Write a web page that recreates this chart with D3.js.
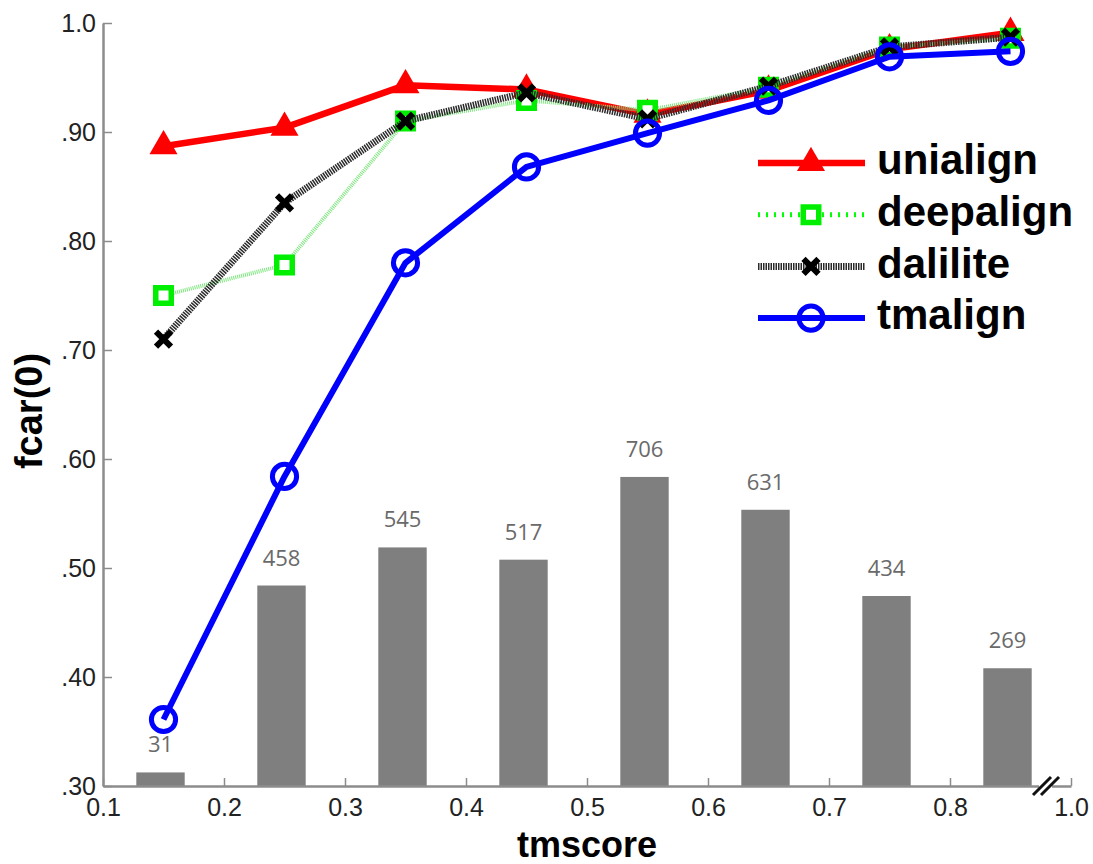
<!DOCTYPE html>
<html>
<head>
<meta charset="utf-8">
<script src="https://cdn.jsdelivr.net/npm/d3@7"></script>
<style>
  body { margin: 0; background: #fff; }
  text { font-family: "Liberation Sans", Arial, sans-serif; }
</style>
</head>
<body>
<div id="chart"></div>
<script>
// data
const tmBins = [0.15, 0.25, 0.35, 0.45, 0.55, 0.65, 0.75, 0.85];
const pairCounts = [31, 458, 545, 517, 706, 631, 434, 269];
const unialign  = [0.887, 0.904, 0.943, 0.939, 0.916, 0.938, 0.976, 0.991];
const deepalign = [0.750, 0.778, 0.910, 0.929, 0.920, 0.941, 0.978, 0.986];
const dalilite  = [0.710, 0.835, 0.910, 0.936, 0.912, 0.942, 0.978, 0.987];
const tmalign   = [0.361, 0.584, 0.780, 0.868, 0.899, 0.929, 0.969, 0.974];
const xTicks = [0.1, 0.2, 0.3, 0.4, 0.5, 0.6, 0.7, 0.8, 0.9];
const xTickLabels = ["0.1", "0.2", "0.3", "0.4", "0.5", "0.6", "0.7", "0.8", "1.0"];
const yTicks = [0.3, 0.4, 0.5, 0.6, 0.7, 0.8, 0.9, 1.0];
const yTickLabels = [".30", ".40", ".50", ".60", ".70", ".80", ".90", "1.0"];

const W = 1093, H = 864;
const svg = d3.select("#chart").append("svg")
    .attr("width", W).attr("height", H);

const x = d3.scaleLinear().domain([0.1, 0.9]).range([103, 1071]);
const y = d3.scaleLinear().domain([0.3, 1.0]).range([786, 23]);
// bar counts share the plot area, no axis of their own
const yc = d3.scaleLinear().domain([0, 1743]).range([786, 23]);
const barW = x(0.14) - x(0.1);

// bars
svg.append("g").selectAll("rect")
    .data(pairCounts)
    .join("rect")
    .attr("x", (d, i) => x(tmBins[i]) - barW / 2 - 3)
    .attr("y", d => yc(d))
    .attr("width", barW)
    .attr("height", d => yc(0) - yc(d))
    .attr("fill", "#7f7f7f");

svg.append("g").selectAll("text")
    .data(pairCounts)
    .join("text")
    .attr("x", (d, i) => x(tmBins[i]) - 3)
    .attr("y", d => yc(d) - 20)
    .attr("text-anchor", "middle")
    .style("font-family", "'Open Sans', sans-serif")
    .attr("font-size", 22)
    .attr("fill", "#6a6a6a")
    .text(d => d);

// axes
const yAxis = svg.append("g")
    .attr("transform", `translate(${x(0.1)},0)`)
    .call(d3.axisLeft(y).tickValues(yTicks).tickSize(-9).tickSizeOuter(0).tickPadding(7)
        .tickFormat((d, i) => yTickLabels[i]));
const xAxis = svg.append("g")
    .attr("transform", `translate(0,${y(0.3)})`)
    .call(d3.axisBottom(x).tickValues(xTicks).tickSize(-8).tickSizeOuter(0).tickPadding(12)
        .tickFormat((d, i) => xTickLabels[i]));
[yAxis, xAxis].forEach(a => {
  a.select(".domain").attr("stroke", "#8c8c8c").attr("stroke-width", 2.5);
  a.selectAll(".tick line").attr("stroke", "#8c8c8c").attr("stroke-width", 1.5);
  a.selectAll("text").attr("font-size", 25).attr("fill", "#222")
    .style("font-family", "'Liberation Sans', Arial, sans-serif");
});

// axis break marks
const bx = 1046, by = y(0.3);
svg.append("rect").attr("x", bx - 7).attr("y", by - 3).attr("width", 13).attr("height", 6).attr("fill", "#fff");
[-4, 4].forEach(o => {
  svg.append("line")
    .attr("x1", bx + o - 9).attr("y1", by + 9)
    .attr("x2", bx + o + 9).attr("y2", by - 9)
    .attr("stroke", "#111").attr("stroke-width", 3);
});

// axis titles
svg.append("text")
    .attr("transform", `translate(42,411) rotate(-90)`)
    .attr("text-anchor", "middle")
    .attr("font-size", 38).attr("font-weight", "bold")
    .text("fcar(0)");
svg.append("text")
    .attr("x", 587).attr("y", 857)
    .attr("text-anchor", "middle")
    .attr("font-size", 36).attr("font-weight", "bold")
    .text("tmscore");

// series styles
const triangle = d3.symbol().type(d3.symbolTriangle).size(210)();
const square = d3.symbol().type(d3.symbolSquare).size(240)();
const cross = "M-7.5,-7.5L7.5,7.5M7.5,-7.5L-7.5,7.5";
const series = [
  {name: "unialign", values: unialign, color: "#ff0000", width: 6.5, dash: null,
   plotColor: "#ff0000", plotDash: null, marker: triangle, mFill: "#ff0000", mStroke: "#ff0000", mWidth: 3.5},
  {name: "deepalign", values: deepalign, color: "#00ff00", width: 5, dash: "2,6",
   plotColor: "#7fe67f", plotDash: "1,1", plotWidth: 4, marker: square, mFill: "#fff", mStroke: "#00ee00", mWidth: 5.5},
  {name: "dalilite", values: dalilite, color: "#2a2a2a", width: 7, dash: "1.5,1",
   plotColor: "#2a2a2a", plotDash: "1.5,1", marker: cross, mFill: "none", mStroke: "#000", mWidth: 6},
  {name: "tmalign", values: tmalign, color: "#0000ff", width: 6, dash: null,
   plotColor: "#0000ff", plotDash: null, marker: d3.symbol().type(d3.symbolCircle).size(460)(),
   mFill: "none", mStroke: "#0000ff", mWidth: 5}
];

const line = d3.line().x((d, i) => x(tmBins[i])).y(d => y(d));

series.forEach(s => {
  const g = svg.append("g");
  g.append("path")
    .datum(s.values)
    .attr("d", line)
    .attr("fill", "none")
    .attr("stroke", s.plotColor)
    .attr("stroke-width", s.plotWidth || s.width)
    .attr("stroke-dasharray", s.plotDash)
    .attr("stroke-linejoin", "round");
  g.selectAll("path.mk")
    .data(s.values)
    .join("path")
    .attr("class", "mk")
    .attr("transform", (d, i) => `translate(${x(tmBins[i])},${y(d)})`)
    .attr("d", s.marker)
    .attr("fill", s.mFill)
    .attr("stroke", s.mStroke)
    .attr("stroke-width", s.mWidth);
});

// legend
const legend = svg.append("g");
series.forEach((s, i) => {
  const ly = 163 + i * 51.7;
  legend.append("line")
    .attr("x1", 758).attr("x2", 865).attr("y1", ly).attr("y2", ly)
    .attr("stroke", s.color).attr("stroke-width", s.width)
    .attr("stroke-dasharray", s.dash);
  legend.append("path")
    .attr("transform", `translate(811,${ly})`)
    .attr("d", s.marker)
    .attr("fill", s.mFill)
    .attr("stroke", s.mStroke)
    .attr("stroke-width", s.mWidth);
  legend.append("text")
    .attr("x", 877).attr("y", ly).attr("dy", "0.27em")
    .attr("font-size", 42).attr("font-weight", "bold")
    .text(s.name);
});
</script>
</body>
</html>
